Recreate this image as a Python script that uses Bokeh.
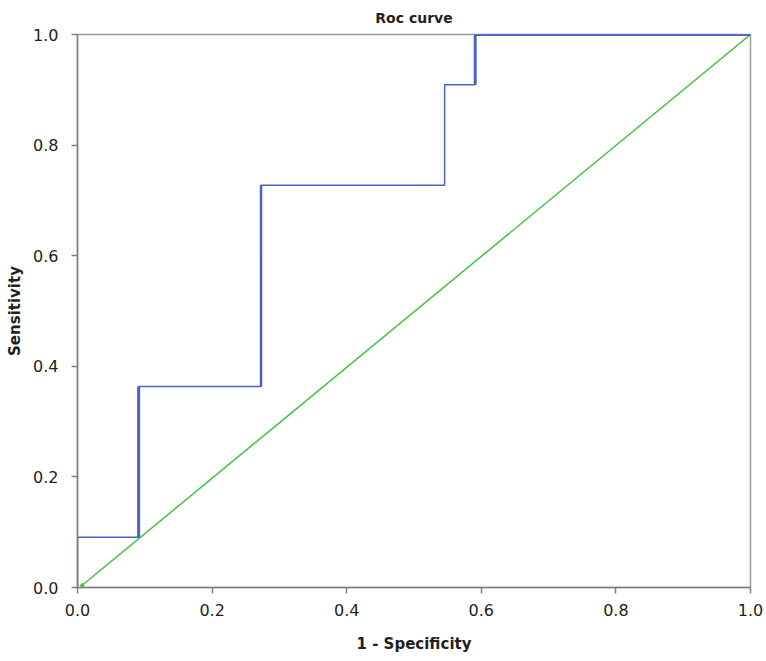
from bokeh.plotting import figure
from bokeh.models import Range1d, FixedTicker, CustomJSTickFormatter
from bokeh.embed import file_html
from bokeh.resources import INLINE

# ROC curve points (1 - specificity, sensitivity)
fpr = [0.0, 0.0, 0.0909, 0.0909, 0.2727, 0.2727, 0.5455, 0.5455, 0.5909, 0.5909, 1.0]
tpr = [0.0, 0.0909, 0.0909, 0.3636, 0.3636, 0.7273, 0.7273, 0.9091, 0.9091, 1.0, 1.0]

# reference diagonal
diag_x = [0.007, 1.0]
diag_y = [0.004, 1.0]

ticks = [0.0, 0.2, 0.4, 0.6, 0.8, 1.0]

p = figure(width=766, height=661, output_backend="svg", toolbar_location=None,
           x_range=Range1d(0, 1), y_range=Range1d(0, 1),
           min_border_left=77, min_border_right=16, min_border_top=34, min_border_bottom=74,
           title="Roc curve")

p.title.align = "center"
p.title.vertical_align = "top"
p.title.text_font = "DejaVu Sans"
p.title.text_font_style = "bold"
p.title.text_font_size = "14px"
p.title.text_color = "#231f20"
p.title.standoff = 14

p.grid.visible = False
p.outline_line_color = "#9a9a9a"
p.outline_line_width = 1.5
p.background_fill_color = "white"

for ax in (p.xaxis[0], p.yaxis[0]):
    ax.ticker = FixedTicker(ticks=ticks)
    ax.formatter = CustomJSTickFormatter(code="return tick.toFixed(1);")
    ax.minor_tick_line_color = None
    ax.major_tick_in = 0
    ax.major_tick_out = 6
    ax.axis_line_color = "#7f7f7f"
    ax.axis_line_width = 1.5
    ax.major_tick_line_color = "#7f7f7f"
    ax.major_tick_line_width = 1.5
    ax.major_label_text_font = "DejaVu Sans"
    ax.major_label_text_font_size = "16px"
    ax.major_label_text_color = "#231f20"
    ax.axis_label_text_font = "DejaVu Sans"
    ax.axis_label_text_font_style = "bold"
    ax.axis_label_text_font_size = "15px"
    ax.axis_label_text_color = "#231f20"

p.xaxis.axis_label = "1 - Specificity"
p.yaxis.axis_label = "Sensitivity"
p.xaxis.major_label_standoff = 10
p.xaxis.axis_label_standoff = 16
p.yaxis.major_label_standoff = 13
p.yaxis.axis_label_standoff = 6
p.yaxis.major_label_orientation = "horizontal"

blue = "#4a63c3"
p.line(diag_x, diag_y, line_color="#3ec43e", line_width=1.5)
p.circle(diag_x, diag_y, radius=2, radius_units="screen", fill_color="#3ec43e", line_color=None)
p.line(fpr, tpr, line_color=blue, line_width=1.5)
# heavier strokes on some steps, as in the original rendering
p.line(fpr[2:4], tpr[2:4], line_color=blue, line_width=3)
p.line(fpr[4:6], tpr[4:6], line_color=blue, line_width=2.5)
p.line(fpr[8:11], tpr[8:11], line_color=blue, line_width=3)

open("out.html", "w").write(file_html(p, INLINE))
